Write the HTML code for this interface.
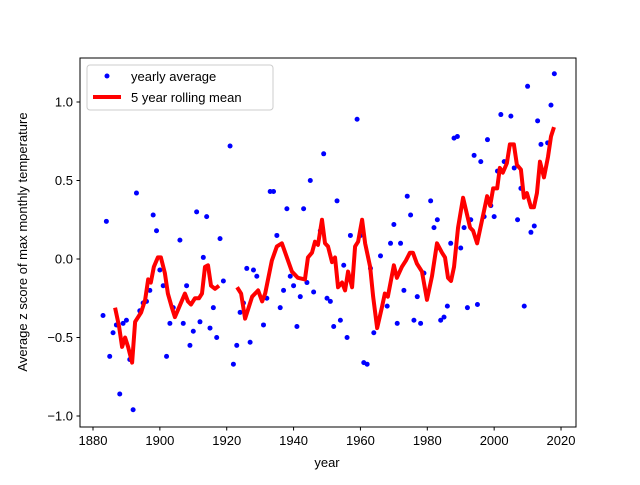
<!DOCTYPE html>
<html><head><meta charset="utf-8"><style>
body{margin:0;background:#fff}
svg text{font-family:"Liberation Sans","DejaVu Sans",sans-serif;font-size:13px;fill:#000}
</style></head><body>
<svg id="chart" width="640" height="480" xmlns="http://www.w3.org/2000/svg">
<rect x="0" y="0" width="640" height="480" fill="#fff"/>
<g id="marks"></g>
<g id="axes"></g>
<rect x="80" y="58" width="496" height="369" fill="none" stroke="#000" stroke-width="1"/>
<text x="327" y="467" text-anchor="middle">year</text>
<text transform="translate(27,242) rotate(-90)" text-anchor="middle">Average z score of max monthly temperature</text>
<g>
<rect x="87" y="65" width="186" height="45" rx="3" fill="#fff" fill-opacity="0.8" stroke="#ccc"/>
<circle cx="107" cy="76" r="2.5" fill="#0000ff"/>
<text x="131" y="81">yearly average</text>
<line x1="93" y1="97" x2="121" y2="97" stroke="#ff0000" stroke-width="4"/>
<text x="131" y="102">5 year rolling mean</text>
</g>
</svg>
<script>
const pointYears=[1883,1884,1885,1886,1887,1888,1889,1890,1891,1892,1893,1894,1895,1896,1897,1898,1899,1900,1901,1902,1903,1904,1906,1907,1908,1909,1910,1911,1912,1913,1914,1915,1916,1917,1918,1919,1921,1922,1923,1924,1925,1926,1927,1928,1929,1931,1932,1933,1934,1935,1936,1937,1938,1939,1940,1941,1942,1943,1944,1945,1946,1948,1949,1950,1951,1952,1953,1954,1955,1956,1957,1959,1960,1961,1962,1963,1964,1966,1968,1969,1970,1971,1972,1973,1974,1975,1976,1977,1978,1979,1981,1982,1983,1984,1985,1986,1987,1988,1989,1990,1991,1992,1993,1994,1995,1996,1997,1998,1999,2000,2001,2002,2003,2005,2006,2007,2008,2009,2010,2011,2012,2013,2014,2016,2017,2018];
const pointValues=[-0.36,0.24,-0.62,-0.47,-0.42,-0.86,-0.41,-0.39,-0.64,-0.96,0.42,-0.33,-0.28,-0.27,-0.20,0.28,0.18,-0.07,-0.17,-0.62,-0.41,-0.31,0.12,-0.41,-0.17,-0.55,-0.46,0.30,-0.40,0.01,0.27,-0.44,-0.31,-0.50,0.13,-0.14,0.72,-0.67,-0.55,-0.34,-0.28,-0.06,-0.53,-0.07,-0.11,-0.42,-0.25,0.43,0.43,0.15,-0.31,-0.20,0.32,-0.11,-0.17,-0.43,-0.24,0.32,-0.15,0.50,-0.21,0.18,0.67,-0.25,-0.27,-0.43,0.37,-0.39,-0.04,-0.50,0.15,0.89,0.15,-0.66,-0.67,-0.06,-0.47,0.02,-0.30,0.10,0.22,-0.41,0.10,-0.20,0.40,0.28,-0.39,-0.24,-0.41,-0.09,0.37,0.20,0.25,-0.39,-0.37,-0.30,0.10,0.77,0.78,0.07,0.20,-0.31,0.25,0.66,-0.29,0.62,0.27,0.76,0.34,0.27,0.56,0.92,0.62,0.91,0.58,0.25,0.45,-0.30,1.10,0.17,0.21,0.88,0.73,0.74,0.98,1.18];
const rollYearsA=[1886.6,1887.8,1888.7,1889.6,1890.5,1891.7,1892.6,1894.4,1895.6,1896.5,1897.3,1898.2,1899.4,1900.3,1901.5,1902.4,1903.6,1904.5,1905.7,1907.5,1908.4,1909.3,1910.5,1911.7,1912.6,1913.5,1914.4,1915.3,1916.5,1917.7];
const rollValuesA=[-0.31,-0.43,-0.56,-0.50,-0.56,-0.66,-0.40,-0.34,-0.26,-0.13,-0.15,-0.05,0.01,0.01,-0.09,-0.22,-0.31,-0.37,-0.31,-0.22,-0.27,-0.29,-0.25,-0.25,-0.22,-0.05,-0.04,-0.17,-0.19,-0.17];
const rollYearsB=[1923.1,1924.3,1925.5,1926.4,1927.6,1929.4,1930.6,1931.5,1933.5,1935.0,1936.5,1938.0,1939.5,1941.3,1943.4,1944.3,1945.5,1946.4,1947.3,1948.5,1949.4,1950.3,1951.5,1952.4,1953.3,1954.5,1955.4,1956.3,1957.5,1958.4,1959.3,1960.5,1961.4,1962.9,1963.8,1965.0,1966.4,1967.3,1968.2,1970.0,1970.9,1972.4,1973.6,1974.8,1975.7,1976.9,1978.4,1979.9,1981.4,1982.9,1984.4,1985.3,1986.2,1987.1,1988.0,1989.2,1990.7,1992.8,1993.7,1994.9,1996.4,1997.9,1998.8,1999.7,2000.9,2001.7,2002.6,2003.8,2004.7,2005.9,2006.8,2008.0,2008.9,2009.8,2011.0,2011.9,2012.8,2013.7,2014.9,2016.1,2017.0,2017.9];
const rollValuesB=[-0.18,-0.22,-0.38,-0.32,-0.24,-0.20,-0.27,-0.22,-0.01,0.08,0.10,0.01,-0.08,-0.12,-0.13,0.01,0.04,0.11,0.09,0.25,0.10,0.08,-0.02,0.01,-0.18,-0.15,-0.20,-0.08,-0.18,0.08,0.11,0.25,0.10,-0.05,-0.24,-0.44,-0.31,-0.22,-0.24,-0.04,-0.12,-0.05,-0.01,0.04,0.04,-0.03,-0.08,-0.26,-0.11,0.10,0.04,0.01,-0.12,-0.14,-0.05,0.20,0.39,0.20,0.18,0.10,0.25,0.40,0.34,0.45,0.45,0.58,0.55,0.61,0.73,0.73,0.60,0.57,0.39,0.42,0.33,0.33,0.42,0.62,0.52,0.65,0.78,0.84];
const xTicks=[1880,1900,1920,1940,1960,1980,2000,2020];
const yTicks=[-1.0,-0.5,0.0,0.5,1.0];

const NS="http://www.w3.org/2000/svg";
function xs(yr){return 93+(yr-1880)*3.343;}
function ys(v){return 259-v*157;}
const marks=document.getElementById('marks');
const axes=document.getElementById('axes');
pointYears.forEach((yr,i)=>{
  const c=document.createElementNS(NS,'circle');
  c.setAttribute('cx',xs(yr));c.setAttribute('cy',ys(pointValues[i]));c.setAttribute('r',2.5);c.setAttribute('fill','#0000ff');
  
  
  marks.appendChild(c);
});
function drawLine(yrs,vals){
  const p=document.createElementNS(NS,'polyline');
  p.setAttribute('points',yrs.map((y,i)=>xs(y)+','+ys(vals[i])).join(' '));
  p.setAttribute('fill','none');p.setAttribute('stroke','#ff0000');p.setAttribute('stroke-width','4');p.setAttribute('stroke-linejoin','round');
  
  
  marks.appendChild(p);
}
drawLine(rollYearsA,rollValuesA);
drawLine(rollYearsB,rollValuesB);
xTicks.forEach(t=>{
  const x=xs(t);
  const l=document.createElementNS(NS,'line');
  l.setAttribute('x1',x);l.setAttribute('x2',x);l.setAttribute('y1',427);l.setAttribute('y2',430.5);l.setAttribute('stroke','#000');
  
  
  axes.appendChild(l);
  const tx=document.createElementNS(NS,'text');
  tx.setAttribute('x',x);tx.setAttribute('y',445);tx.setAttribute('text-anchor','middle');tx.textContent=t;
  
  
  axes.appendChild(tx);
});
yTicks.forEach(t=>{
  const y=ys(t);
  const l=document.createElementNS(NS,'line');
  l.setAttribute('x1',76.5);l.setAttribute('x2',80);l.setAttribute('y1',y);l.setAttribute('y2',y);l.setAttribute('stroke','#000');
  
  
  axes.appendChild(l);
  const tx=document.createElementNS(NS,'text');
  tx.setAttribute('x',73);tx.setAttribute('y',y+4.5);tx.setAttribute('text-anchor','end');tx.textContent=(t<0?'\u2212':'')+Math.abs(t).toFixed(1);
  
  
  axes.appendChild(tx);
});
</script>
</body></html>
